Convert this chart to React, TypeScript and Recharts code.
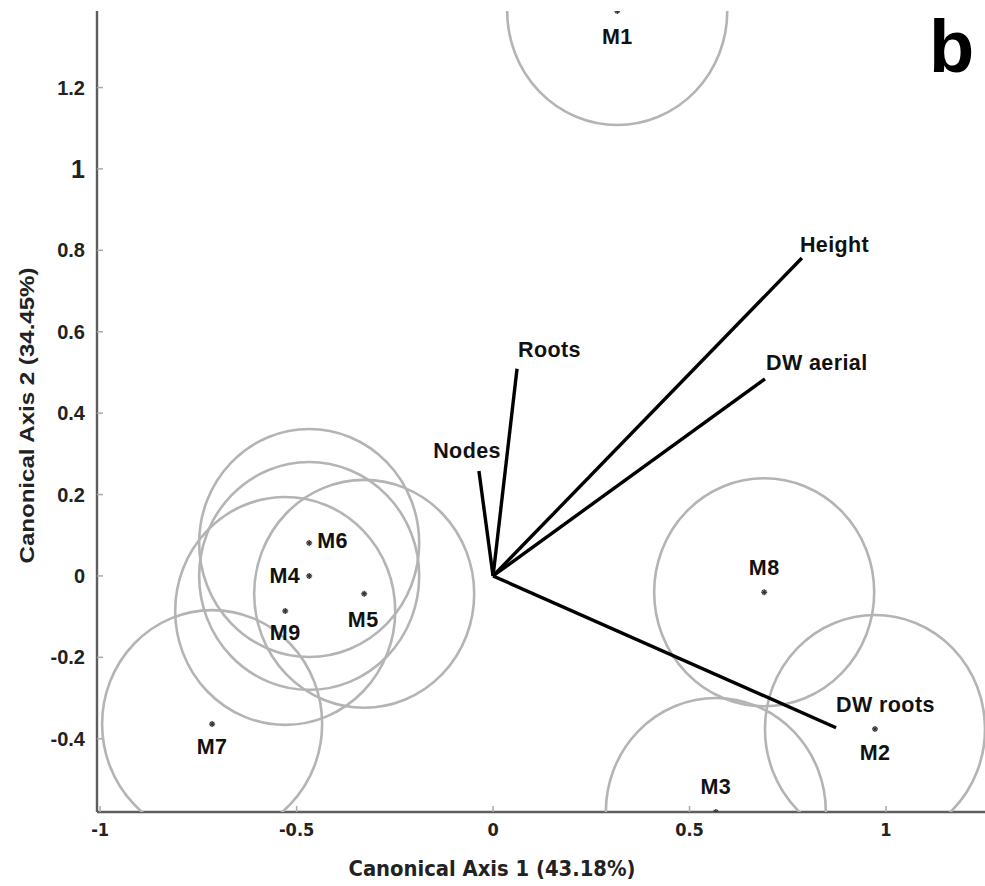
import React from 'react';
import { ScatterChart, Scatter, XAxis, YAxis } from 'recharts';

// ---- data ----
const groupNames = ['M1', 'M2', 'M3', 'M4', 'M5', 'M6', 'M7', 'M8', 'M9'];
const groupX = [0.316, 0.972, 0.567, -0.468, -0.328, -0.468, -0.715, 0.69, -0.529];
const groupY = [1.388, -0.376, -0.58, 0.0, -0.044, 0.081, -0.364, -0.04, -0.086];
const circleRadius = 0.28;

const varNames = ['Height', 'DW aerial', 'Roots', 'Nodes', 'DW roots'];
const varX = [0.786, 0.692, 0.061, -0.036, 0.873];
const varY = [0.781, 0.484, 0.509, 0.258, -0.373];

const xTicks = [-1, -0.5, 0, 0.5, 1];
const yTicks = [-0.4, -0.2, 0, 0.2, 0.4, 0.6, 0.8, 1, 1.2];
const xDomain: [number, number] = [-1.008, 1.252];
const yDomain: [number, number] = [-0.58, 1.388];

const xTitle = 'Canonical Axis 1 (43.18%)';
const yTitle = 'Canonical Axis 2 (34.45%)';
const panelLetter = 'b';

// ---- layout ----
const W = 985;
const H = 886;
const M = { top: 11, right: 0, bottom: 0, left: 0 };
const Y_AXIS_W = 97;
const X_AXIS_H = 74;
const PLOT_W = W - M.left - M.right - Y_AXIS_W;
const PLOT_H = H - M.top - M.bottom - X_AXIS_H;
const PX_X = PLOT_W / (xDomain[1] - xDomain[0]);
const PX_Y = PLOT_H / (yDomain[1] - yDomain[0]);

const FONT = '"Liberation Sans", Arial, sans-serif';
const NARROW = '"Liberation Sans Narrow", "DejaVu Sans Condensed", "Liberation Sans", Arial, sans-serif';
const LABEL_SIZE = 21.5;
const LABEL_SPACING = 0.4;

const groups = groupNames.map((name, i) => ({ name, x: groupX[i], y: groupY[i] }));

// label placement for group markers (style, kept apart from data)
const groupLabelPlace: Record<string, { dx: number; dy: number; anchor: string }> = {
  M1: { dx: 0, dy: 26, anchor: 'middle' },
  M2: { dx: 0, dy: 24, anchor: 'middle' },
  M3: { dx: 0, dy: -25, anchor: 'middle' },
  M4: { dx: -9, dy: 0, anchor: 'end' },
  M5: { dx: -1, dy: 26, anchor: 'middle' },
  M6: { dx: 8, dy: -2, anchor: 'start' },
  M7: { dx: 0, dy: 23, anchor: 'middle' },
  M8: { dx: 0, dy: -24, anchor: 'middle' },
  M9: { dx: 0, dy: 22, anchor: 'middle' },
};

const varLabelPlace: Record<string, { dx: number; dy: number; anchor: string }> = {
  Height: { dx: -2, dy: -13, anchor: 'start' },
  'DW aerial': { dx: 1, dy: -16, anchor: 'start' },
  Roots: { dx: 1, dy: -19, anchor: 'start' },
  Nodes: { dx: 22, dy: -20, anchor: 'end' },
  'DW roots': { dx: 0, dy: -23, anchor: 'start' },
};

const CircleShape = (props: any) => {
  const { cx, cy } = props;
  if (cx == null || cy == null) return null;
  return (
    <ellipse
      cx={cx}
      cy={cy}
      rx={circleRadius * PX_X}
      ry={circleRadius * PX_Y}
      fill="none"
      stroke="#b4b4b4"
      strokeWidth={2.6}
    />
  );
};

const MarkerShape = (props: any) => {
  const { cx, cy, payload } = props;
  if (cx == null || cy == null) return null;
  const p = groupLabelPlace[payload.name] || { dx: 0, dy: 20, anchor: 'middle' };
  const s = 3;
  return (
    <g>
      <line x1={cx - s} y1={cy} x2={cx + s} y2={cy} stroke="#333" strokeWidth={1.4} />
      <line x1={cx} y1={cy - s} x2={cx} y2={cy + s} stroke="#333" strokeWidth={1.4} />
      <line x1={cx - s * 0.7} y1={cy - s * 0.7} x2={cx + s * 0.7} y2={cy + s * 0.7} stroke="#333" strokeWidth={1.2} />
      <line x1={cx - s * 0.7} y1={cy + s * 0.7} x2={cx + s * 0.7} y2={cy - s * 0.7} stroke="#333" strokeWidth={1.2} />
      <text
        x={cx + p.dx}
        y={cy + p.dy}
        textAnchor={p.anchor as any}
        dominantBaseline="central"
        fontFamily={FONT}
        fontWeight="bold"
        fontSize={LABEL_SIZE}
        letterSpacing={LABEL_SPACING}
        fill="#111"
      >
        {payload.name}
      </text>
    </g>
  );
};

const VectorEndShape = (props: any) => {
  const { cx, cy, payload } = props;
  if (cx == null || cy == null || !payload.label) return <g />;
  const p = varLabelPlace[payload.label];
  return (
    <text
      x={cx + p.dx}
      y={cy + p.dy}
      textAnchor={p.anchor as any}
      dominantBaseline="central"
      fontFamily={FONT}
      fontWeight="bold"
      fontSize={LABEL_SIZE}
      letterSpacing={LABEL_SPACING}
      fill="#111"
    >
      {payload.label}
    </text>
  );
};

const fmt = (v: number) => String(Math.round(v * 10) / 10);

const XTick = (props: any) => {
  const { x, y, payload } = props;
  return (
    <text
      x={x}
      y={y}
      dy={12}
      textAnchor="middle"
      dominantBaseline="central"
      fontFamily={NARROW}
      fontWeight="bold"
      fontSize={18}
      fill="#222"
    >
      {fmt(payload.value)}
    </text>
  );
};

const YTick = (props: any) => {
  const { x, y, payload } = props;
  const isOne = payload.value === 1;
  return (
    <text
      x={x}
      y={y}
      textAnchor="end"
      dominantBaseline="central"
      fontFamily={FONT}
      fontWeight="bold"
      fontSize={isOne ? 25 : 20}
      fill="#222"
    >
      {fmt(payload.value)}
    </text>
  );
};

const XTitle = (props: any) => {
  const vb = props.viewBox || { x: 0, y: 0, width: 0, height: 0 };
  return (
    <text
      x={vb.x + 395}
      y={vb.y + 57}
      textAnchor="middle"
      dominantBaseline="central"
      fontFamily={NARROW}
      fontWeight="bold"
      fontSize={21}
      textLength={287}
      lengthAdjust="spacingAndGlyphs"
      fill="#222"
    >
      {xTitle}
    </text>
  );
};

const YTitle = (props: any) => {
  const vb = props.viewBox || { x: 0, y: 0, width: 0, height: 0 };
  const cx = 26;
  const cy = vb.y + vb.height / 2 + 4;
  return (
    <text
      x={cx}
      y={cy}
      transform={`rotate(-90 ${cx} ${cy})`}
      textAnchor="middle"
      dominantBaseline="central"
      fontFamily={FONT}
      fontWeight="bold"
      fontSize={21}
      textLength={296}
      lengthAdjust="spacingAndGlyphs"
      fill="#222"
    >
      {yTitle}
    </text>
  );
};

export default function App() {
  return (
    <div style={{ position: 'absolute', left: 0, top: 0, width: W, height: H, background: '#fff' }}>
      <ScatterChart width={W} height={H} margin={M}>
        <XAxis
          xAxisId="b"
          type="number"
          dataKey="x"
          domain={xDomain}
          ticks={xTicks}
          allowDataOverflow
          height={X_AXIS_H}
          tickSize={-6}
          tickMargin={11}
          stroke="#5e5e5e"
          strokeWidth={2.4}
          tickLine={{ stroke: '#aaa', strokeWidth: 1.5 }}
          tick={<XTick />}
          label={<XTitle />}
        />
        <XAxis
          xAxisId="t"
          orientation="top"
          type="number"
          dataKey="x"
          domain={xDomain}
          ticks={xTicks}
          allowDataOverflow
          height={0}
          tickSize={-6}
          stroke="#5e5e5e"
          strokeWidth={2.4}
          tickLine={{ stroke: '#aaa', strokeWidth: 1.5 }}
          tick={false}
        />
        <YAxis
          yAxisId="l"
          type="number"
          dataKey="y"
          domain={yDomain}
          ticks={yTicks}
          allowDataOverflow
          width={Y_AXIS_W}
          tickSize={-6}
          tickMargin={18}
          stroke="#5e5e5e"
          strokeWidth={2.4}
          tickLine={{ stroke: '#aaa', strokeWidth: 1.5 }}
          tick={<YTick />}
          label={<YTitle />}
        />
        <YAxis
          yAxisId="r"
          orientation="right"
          type="number"
          dataKey="y"
          domain={yDomain}
          ticks={yTicks}
          allowDataOverflow
          width={0}
          tickSize={-6}
          stroke="#5e5e5e"
          strokeWidth={2.4}
          tickLine={{ stroke: '#aaa', strokeWidth: 1.5 }}
          tick={false}
        />
        <Scatter
          xAxisId="b"
          yAxisId="l"
          data={groups}
          shape={<CircleShape />}
          isAnimationActive={false}
        />
        {varNames.map((name, i) => (
          <Scatter
            key={name}
            xAxisId="b"
            yAxisId="l"
            data={[
              { x: 0, y: 0, label: '' },
              { x: varX[i], y: varY[i], label: name },
            ]}
            line={{ stroke: '#000', strokeWidth: 3.4 }}
            lineType="joint"
            shape={<VectorEndShape />}
            isAnimationActive={false}
          />
        ))}
        <Scatter
          xAxisId="b"
          yAxisId="l"
          data={groups}
          shape={<MarkerShape />}
          isAnimationActive={false}
        />
      </ScatterChart>
      <div
        style={{
          position: 'absolute',
          left: 929,
          top: 10,
          fontFamily: FONT,
          fontWeight: 'bold',
          fontSize: 74,
          lineHeight: 1,
          color: '#000',
        }}
      >
        {panelLetter}
      </div>
    </div>
  );
}
